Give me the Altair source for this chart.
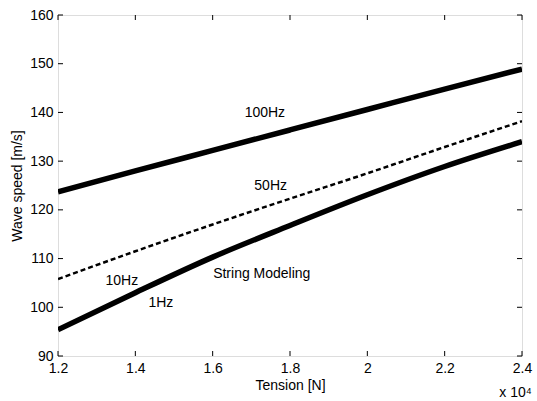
import altair as alt
import pandas as pd

# Tension (x 10^4 N)
tension = [1.2, 1.4, 1.6, 1.8, 2.0, 2.2, 2.4]
speed_100hz = [123.7, 128.0, 132.2, 136.4, 140.6, 144.8, 148.9]
speed_50hz = [105.8, 111.5, 117.0, 122.3, 127.5, 132.9, 138.2]
speed_1hz = [95.4, 103.0, 110.3, 116.8, 123.1, 128.9, 134.0]

x_ticks = [1.2, 1.4, 1.6, 1.8, 2.0, 2.2, 2.4]
y_ticks = [90, 100, 110, 120, 130, 140, 150, 160]

label_text = ["100Hz", "50Hz", "10Hz", "1Hz", "String Modeling"]
label_x = [1.735, 1.75, 1.365, 1.466, 1.727]
label_y = [139.9, 124.9, 105.3, 100.8, 106.8]

W, H = 464, 341
FONT = "Liberation Sans"
FS = 14

xs = alt.Scale(domain=[1.2, 2.4], nice=False, zero=False)
ys = alt.Scale(domain=[90, 160], nice=False, zero=False)

xaxis = alt.Axis(values=x_ticks, format="~g", title="Tension [N]", grid=False, domain=False,
                 ticks=False, labelPadding=5, titlePadding=3, labelFont=FONT, titleFont=FONT,
                 labelFontSize=FS, titleFontSize=FS, labelColor="black", titleColor="black",
                 titleFontWeight="normal", labelFlush=False)
yaxis = alt.Axis(values=y_ticks, title="Wave speed [m/s]", grid=False, domain=False,
                 ticks=False, labelPadding=5, titlePadding=5, labelFont=FONT, titleFont=FONT,
                 labelFontSize=FS, titleFontSize=FS, labelColor="black", titleColor="black",
                 titleFontWeight="normal", labelFlush=False)


def series_line(vals, width, dash):
    d = pd.DataFrame({"T": tension, "v": vals})
    kw = {}
    if dash:
        kw["strokeDash"] = dash
    return alt.Chart(d).mark_line(color="black", strokeWidth=width, clip=True,
                                  interpolate="monotone", **kw).encode(
        x=alt.X("T:Q", scale=xs, axis=xaxis),
        y=alt.Y("v:Q", scale=ys, axis=yaxis),
    )


l100 = series_line(speed_100hz, 5.5, None)
l50 = series_line(speed_50hz, 2.5, [5, 3])
l1 = series_line(speed_1hz, 5.5, None)

lab_df = pd.DataFrame({"text": label_text, "x": label_x, "y": label_y})
labels = alt.Chart(lab_df).mark_text(font=FONT, fontSize=FS, color="black").encode(
    x=alt.X("x:Q", scale=xs, axis=xaxis), y=alt.Y("y:Q", scale=ys, axis=yaxis), text="text:N")

xt = pd.DataFrame({"t": x_ticks})
yt = pd.DataFrame({"t": y_ticks})
tick_bot = alt.Chart(xt).mark_rule(color="black", strokeWidth=1).encode(
    x=alt.X("t:Q", scale=xs, axis=xaxis), y=alt.value(H), y2=alt.value(H - 5))
tick_top = alt.Chart(xt).mark_rule(color="black", strokeWidth=1).encode(
    x=alt.X("t:Q", scale=xs, axis=xaxis), y=alt.value(0), y2=alt.value(5))
tick_left = alt.Chart(yt).mark_rule(color="black", strokeWidth=1).encode(
    y=alt.Y("t:Q", scale=ys, axis=yaxis), x=alt.value(0), x2=alt.value(5))
tick_right = alt.Chart(yt).mark_rule(color="black", strokeWidth=1).encode(
    y=alt.Y("t:Q", scale=ys, axis=yaxis), x=alt.value(W), x2=alt.value(W - 5))

chart = alt.layer(l100, l50, l1, labels, tick_bot, tick_top, tick_left, tick_right).properties(
    width=W, height=H,
    title=alt.TitleParams(text="x 10⁴", orient="bottom", anchor="end", font=FONT, fontSize=FS,
                          fontWeight="normal", color="black", offset=-6),
    autosize=alt.AutoSizeParams(type="none"),
    padding={"left": 58, "top": 15, "right": 15, "bottom": 45},
).configure_view(stroke="black", strokeWidth=1.5).configure(background="white")

chart.save("out.html", embed_options={"renderer": "svg", "actions": False})
